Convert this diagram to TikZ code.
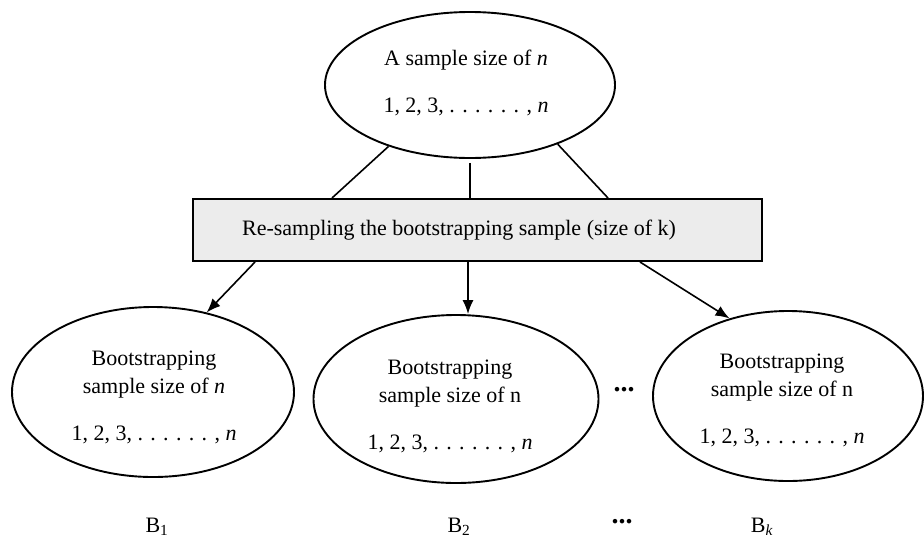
\documentclass[tikz,border=0pt]{standalone}
\usepackage{fontspec}
\setmainfont{Liberation Serif}
\usetikzlibrary{shapes.geometric,arrows.meta}
\begin{document}
\begin{tikzpicture}[x=1pt,y=-1pt,
  every node/.style={font=\fontsize{22}{28}\selectfont, text=black},
  ell/.style={draw, ellipse, line width=1.9pt, inner sep=0pt},
  txt/.style={align=center, inner sep=0pt},
  proc/.style={draw, line width=2pt, fill=gray!15, minimum width=569pt, minimum height=62pt, inner sep=0pt},
  conn/.style={line width=1.6pt},
  arr/.style={line width=1.6pt, -{Latex[length=14pt,width=11pt]}},
  dotsl/.style={font=\fontsize{28}{30}\bfseries\selectfont}]
\useasboundingbox (0,0) rectangle (924,550);
\node[ell, minimum width=290pt, minimum height=146pt] (top) at (470,85) {};
\node[txt] (toptxt) at (466,82.5)
  {A sample size of \textit{n}\\[19pt] 1, 2, 3, . . . . . . , \textit{n}};
\node[proc] (box) at (477.5,230) {};
\node[txt] (boxtxt) at (459,230) {Re-sampling the bootstrapping sample (size of k)};
\node[ell, minimum width=282pt, minimum height=170pt] (b1) at (153,392) {};
\node[txt] (b1txt) at (154,397)
  {Bootstrapping\\ sample size of \textit{n}\\[19pt] 1, 2, 3, . . . . . . , \textit{n}};
\node[ell, minimum width=285pt, minimum height=168pt] (b2) at (456,399) {};
\node[txt] (b2txt) at (450,406)
  {Bootstrapping\\ sample size of n\\[19pt] 1, 2, 3, . . . . . . , \textit{n}};
\node[ell, minimum width=270pt, minimum height=170pt] (bk) at (788,396) {};
\node[txt] (bktxt) at (782,400)
  {Bootstrapping\\ sample size of n\\[19pt] 1, 2, 3, . . . . . . , \textit{n}};
\node[dotsl] (dm) at (624,390) {...};
\node (l1) at (157,527) {B\textsubscript{1}};
\node (l2) at (459,527) {B\textsubscript{2}};
\node[dotsl] (dl) at (622,522) {...};
\node (lk) at (762,527) {B\textsubscript{\textit{k}}};
\coordinate (x1) at (332,0);
\coordinate (x2) at (470,0);
\coordinate (x3) at (608,0);
\coordinate (y1) at (255,0);
\coordinate (y2) at (468,0);
\coordinate (y3) at (640,0);
\draw[conn] (top.217) -- (box.north -| x1);
\draw[conn] ([yshift=-4pt]top.south) -- (box.north -| x2);
\draw[conn] (top.-34) -- (box.north -| x3);
\draw[arr] (box.south -| y1) -- (b1.56);
\draw[arr] (box.south -| y2) -- (b2.north -| y2);
\draw[arr] (box.south -| y3) -- (bk.127);
\end{tikzpicture}
\end{document}
